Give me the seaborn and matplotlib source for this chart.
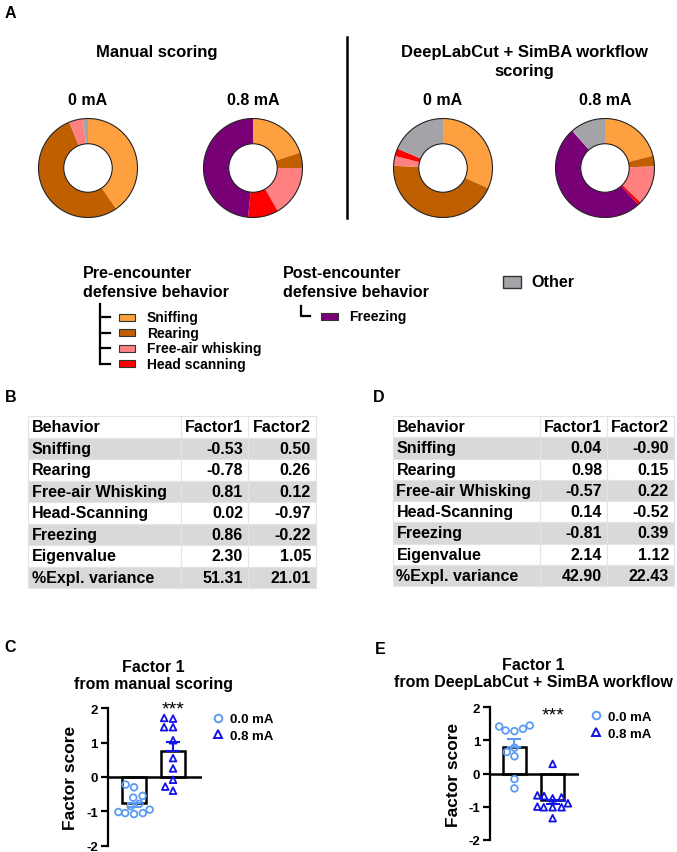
import matplotlib
matplotlib.use('Agg')
import matplotlib.pyplot as plt
from matplotlib.patches import Rectangle, Circle
from matplotlib.lines import Line2D
import numpy as np
import pandas as pd
import seaborn as sns

plt.rcParams['font.family'] = ['Liberation Sans', 'DejaVu Sans']
plt.rcParams['axes.unicode_minus'] = False

# behaviour categories used in the donuts / legend
behaviors = ['Sniffing', 'Rearing', 'Free-air whisking', 'Head scanning', 'Freezing', 'Other']
beh_colors = ['#ffa040', '#c05f00', '#ff8080', '#ff0000', '#7a0078', '#a3a3a8']

# fraction of time spent per behaviour (clockwise from 12 o'clock)
manual_0 = [0.404, 0.534, 0.047, 0.0, 0.0, 0.015]
manual_08 = [0.200, 0.050, 0.167, 0.099, 0.484, 0.0]
dlc_0 = [0.317, 0.440, 0.032, 0.025, 0.0, 0.186]
dlc_08 = [0.210, 0.035, 0.128, 0.010, 0.502, 0.115]

# factor loading tables
table_cols = ['Behavior', 'Factor1', 'Factor2']
table_rows = ['Sniffing', 'Rearing', 'Free-air Whisking', 'Head-Scanning', 'Freezing',
              'Eigenvalue', '%Expl. variance']
manual_f1 = ['-0.53', '-0.78', '0.81', '0.02', '0.86', '2.30', '51.31']
manual_f2 = ['0.50', '0.26', '0.12', '-0.97', '-0.22', '1.05', '21.01']
dlc_f1 = ['0.04', '0.98', '-0.57', '0.14', '-0.81', '2.14', '42.90']
dlc_f2 = ['-0.90', '0.15', '0.22', '-0.52', '0.39', '1.12', '22.43']

# factor 1 scores per animal
groups = ['0.0 mA', '0.8 mA']
manual_score_0 = [-0.22, -0.30, -0.55, -0.60, -0.78, -0.85, -0.95, -1.02, -1.05, -1.05, -1.08]
manual_score_08 = [1.70, 1.72, 1.45, 1.45, 1.07, 0.55, 0.25, -0.08, -0.28, -0.40]
dlc_score_0 = [1.45, 1.42, 1.35, 1.30, 1.28, 0.78, 0.65, 0.52, -0.17, -0.45]
dlc_score_08 = [0.29, -0.68, -0.66, -0.75, -0.72, -0.90, -1.00, -1.02, -1.02, -1.02, -1.35]
point_colors = ['#5b9cf2', '#1212e6']
point_markers = ['o', '^']

W, H = 677, 853
fig = plt.figure(figsize=(W / 100, H / 100), dpi=100)


def box(left, top, width, height):
    # pixel box (from top-left) -> figure fraction
    return [left / W, 1 - (top + height) / H, width / W, height / H]


ov = fig.add_axes([0, 0, 1, 1])
ov.set_xlim(0, W)
ov.set_ylim(H, 0)
ov.axis('off')

bold = dict(fontweight='bold', ha='center', va='center')

# ---------------- panel A ----------------
ov.text(5, 13, 'A', fontsize=11.5, fontweight='bold', va='center')
ov.text(157, 52, 'Manual scoring', fontsize=12, **bold)
ov.text(524, 52, 'DeepLabCut + SimBA workflow', fontsize=12, **bold)
ov.text(524, 71, 'scoring', fontsize=12, **bold)
ov.plot([347, 347], [38, 219], color='black', lw=1.8)


def donut(cx, cy, fracs, label):
    r = 50
    ax = fig.add_axes(box(cx - r, cy - r, 2 * r, 2 * r))
    ax.pie(fracs, colors=beh_colors, startangle=90, counterclock=False, radius=1,
           wedgeprops=dict(width=0.51, linewidth=0))
    ax.add_patch(Circle((0, 0), 1, fill=False, lw=0.8, ec='#222222'))
    ax.add_patch(Circle((0, 0), 0.49, fill=False, lw=0.8, ec='#222222'))
    ax.set_xlim(-1.01, 1.01)
    ax.set_ylim(-1.01, 1.01)
    ov.text(cx, 100, label, fontsize=11.5, **bold)


donut(88, 169, manual_0, '0 mA')
donut(253, 169, manual_08, '0.8 mA')
donut(443, 169, dlc_0, '0 mA')
donut(605, 169, dlc_08, '0.8 mA')

# legend with brackets
leg_font = dict(fontsize=10, fontweight='bold', va='center')
head_font = dict(fontsize=11.6, fontweight='bold', va='center')
ov.text(83, 273, 'Pre-encounter', **head_font)
ov.text(83, 292, 'defensive behavior', **head_font)
pre_y = [318, 333.5, 349, 364.5]
ov.plot([99.5, 99.5], [305, pre_y[-1]], color='black', lw=1.6)
for name, col, y in zip(behaviors[:4], beh_colors[:4], pre_y):
    ov.plot([99.5, 110], [y, y], color='black', lw=1.6)
    ov.add_patch(Rectangle((119, y - 3.5), 16, 7, fc=col, ec='#333333', lw=0.8))
    ov.text(147, y, name, **leg_font)

ov.text(283, 273, 'Post-encounter', **head_font)
ov.text(283, 292, 'defensive behavior', **head_font)
ov.plot([301, 301, 310], [307, 317, 317], color='black', lw=1.6)
ov.add_patch(Rectangle((321, 313.5), 17, 7, fc=beh_colors[4], ec='#333333', lw=0.8))
ov.text(349, 317, behaviors[4], **leg_font)

ov.add_patch(Rectangle((503, 276.5), 18, 12, fc=beh_colors[5], ec='#333333', lw=1.0))
ov.text(531, 282.5, behaviors[5], **head_font)

# ---------------- panels B / D ----------------


def loading_table(left, top, height, col_px, f1, f2):
    width = sum(col_px)
    ax = fig.add_axes(box(left, top, width, height))
    ax.axis('off')
    cells = [[r, a, b] for r, a, b in zip(table_rows, f1, f2)]
    tb = ax.table(cellText=cells, colLabels=table_cols,
                  colWidths=[w / width for w in col_px], bbox=[0, 0, 1, 1])
    tb.auto_set_font_size(False)
    tb.set_fontsize(11.5)
    for (r, c), cell in tb.get_celld().items():
        cell.set_facecolor('#d9d9d9' if r % 2 == 1 else 'white')
        cell.set_edgecolor('#e4e4e4')
        cell.set_linewidth(0.8)
        cell.get_text().set_fontweight('bold')
        if c == 0:
            cell.get_text().set_ha('left')
            cell.PAD = 3.5 / col_px[0]
        else:
            cell.get_text().set_ha('right')
            cell.PAD = 5 / col_px[c]


ov.text(5, 398, 'B', fontsize=11.5, fontweight='bold', va='center')
loading_table(28, 417, 172, [153, 67, 68], manual_f1, manual_f2)
ov.text(373, 398, 'D', fontsize=11.5, fontweight='bold', va='center')
loading_table(393, 417, 170, [147, 67, 67], dlc_f1, dlc_f2)

# ---------------- panels C / E ----------------


def factor_panel(left, top, width, height, s0, s1, xlim, label_x):
    df = pd.DataFrame({'group': [groups[0]] * len(s0) + [groups[1]] * len(s1),
                       'score': s0 + s1})
    ax = fig.add_axes(box(left, top, width, height))
    ax.patch.set_alpha(0)
    sns.barplot(data=df, x='group', y='score', order=groups, errorbar=None, width=0.62,
                color='white', saturation=1, edgecolor='black', linewidth=1.8, ax=ax)
    for i, (vals, c) in enumerate(zip([s0, s1], point_colors)):
        m = np.mean(vals)
        se = np.std(vals, ddof=1) / np.sqrt(len(vals))
        yerr = [[0], [se]] if m > 0 else [[se], [0]]
        ax.errorbar(i, m, yerr=yerr, color=c, capsize=5, elinewidth=1.5, capthick=1.5, zorder=3)
    for g, mk, c in zip(groups, point_markers, point_colors):
        n_before = len(ax.collections)
        sns.swarmplot(data=df[df.group == g], x='group', y='score', order=groups,
                      marker=mk, size=4.8, color=c, ax=ax, zorder=4)
        for coll in ax.collections[n_before:]:
            coll.set_facecolor('none')
            coll.set_edgecolor(c)
            coll.set_linewidth(1.3)
    ax.axhline(0, color='black', lw=1.8, zorder=2)
    ax.set_xlim(*xlim)
    ax.set_ylim(-2, 2)
    sns.despine(ax=ax, bottom=True)
    ax.spines['left'].set_linewidth(1.6)
    ax.set_xticks([])
    ax.set_xlabel('')
    ax.set_yticks([-2, -1, 0, 1, 2])
    ax.tick_params(axis='y', length=5, width=1.6, labelsize=9.5, pad=2)
    for t in ax.get_yticklabels():
        t.set_fontweight('bold')
    ax.set_ylabel('Factor score', fontsize=12.5, fontweight='bold')
    ax.yaxis.set_label_coords(label_x, 0.5)
    return ax


def group_legend(x, y):
    handles = [Line2D([], [], ls='none', marker=mk, mfc='none', mec=c, mew=1.4, ms=5.5)
               for mk, c in zip(point_markers, point_colors)]
    fig.legend(handles, groups, loc='center left', bbox_to_anchor=(x / W, 1 - y / H),
               frameon=False, borderpad=0, borderaxespad=0, handlelength=1.0,
               handletextpad=0.45, labelspacing=0.35, prop=dict(weight='bold', size=9.5))


ov.text(4, 648, 'C', fontsize=11.5, fontweight='bold', va='center')
ov.text(153, 667, 'Factor 1', fontsize=11.5, **bold)
ov.text(153, 684, 'from manual scoring', fontsize=11.5, **bold)
factor_panel(107.5, 709.3, 94, 137.4, manual_score_0, manual_score_08, (-0.68, 1.73), -0.31)
ov.text(173, 710, '***', fontsize=14, ha='center', va='center')
group_legend(211, 728.5)

ov.text(375, 649, 'E', fontsize=11.5, fontweight='bold', va='center')
ov.text(533, 666, 'Factor 1', fontsize=11.5, **bold)
ov.text(533, 683, 'from DeepLabCut + SimBA workflow', fontsize=11.5, **bold)
factor_panel(490, 708.3, 89, 132.4, dlc_score_0, dlc_score_08, (-0.64, 1.69), -0.33)
ov.text(553, 716, '***', fontsize=14, ha='center', va='center')
group_legend(589, 726)

fig.savefig('out.png', dpi=100)
